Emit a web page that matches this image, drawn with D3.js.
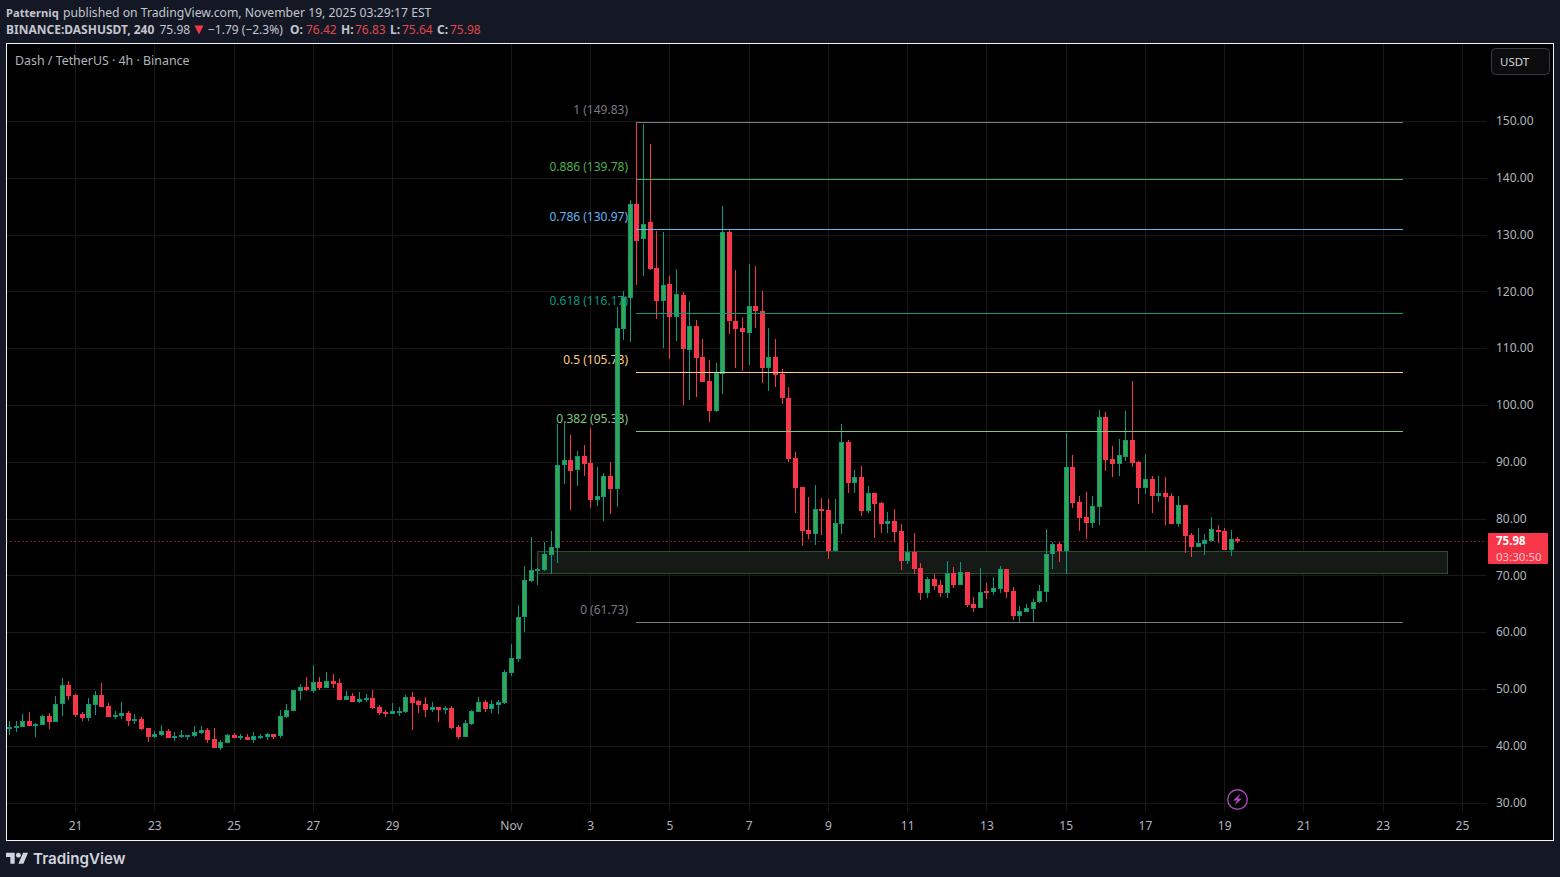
<!DOCTYPE html>
<html>
<head>
<meta charset="utf-8">
<title>DASHUSDT</title>
<script src="https://cdn.jsdelivr.net/npm/d3@7/dist/d3.min.js"></script>
<style>
html, body { margin: 0; padding: 0; background: #141824; overflow: hidden; }
svg { display: block; }
text { font-family: "Noto Sans", sans-serif; }
</style>
</head>
<body>
<script>
var opens = [
43.18,43.18,43.29,44.35,43.64,43.64,45.23,44.17,47.34,50.68,
48.92,45.58,44.88,47.16,48.92,46.99,45.05,45.23,45.76,44.35,
44.7,43.12,41.53,41.88,42.59,41.36,41.71,41.77,41.71,42.24,
42.76,41.18,39.6,40.48,41.88,41.53,41.53,41.0,41.53,41.53,
42.06,41.71,45.05,46.11,49.63,50.33,49.63,51.21,50.15,51.39,
51.03,48.04,48.75,47.69,48.22,48.4,46.81,45.93,45.58,45.93,
45.93,48.57,47.87,47.34,46.28,46.81,46.46,46.64,43.29,41.53,
43.82,45.93,47.69,46.46,47.16,47.52,52.79,55.25,62.65,68.98,
70.82,70.91,73.55,74.84,89.27,90.22,88.38,90.97,89.74,83.23,
83.81,87.45,85.17,113.37,118.9,135.44,129.28,132.15,124.05,118.25,
121.24,115.43,119.3,109.62,113.85,108.39,104.17,98.89,105.4,130.38,
114.73,113.5,112.62,117.37,116.49,106.46,108.39,105.4,101.18,90.62,
85.52,77.95,77.25,81.65,81.47,74.26,79.0,93.44,86.22,87.28,
81.29,84.46,82.7,79.0,79.53,77.77,72.5,74.08,71.26,66.87,
69.33,68.27,66.87,70.38,68.27,70.56,64.93,64.23,67.22,67.04,
67.57,71.09,67.22,62.82,63.52,64.05,65.28,67.04,73.73,75.49,
74.26,89.04,82.88,80.24,79.18,82.0,97.83,90.45,89.57,90.8,
93.79,89.92,85.34,86.92,83.93,84.46,83.93,79.0,82.35,77.07,
74.96,75.49,76.02,77.95,77.77,74.43,76.42]

var highs = [
44.35,44.35,45.58,45.93,44.0,45.4,45.76,48.75,51.91,51.39,
49.1,45.93,48.4,49.63,51.03,47.52,46.11,47.69,46.11,45.58,
45.05,43.12,42.59,43.64,42.94,42.41,42.76,41.88,43.47,43.47,
43.12,43.12,41.0,42.06,42.24,42.06,42.06,42.41,42.06,42.24,
42.06,46.28,47.34,49.8,50.86,52.09,54.2,52.09,52.97,52.62,
51.74,49.63,49.27,49.45,49.1,49.8,47.16,46.28,47.52,46.81,
48.92,49.51,48.04,48.57,47.69,46.81,46.99,46.99,43.64,44.52,
46.28,48.57,48.04,48.04,48.04,53.32,57.9,64.76,71.62,76.72,
71.26,75.89,77.77,96.6,97.0,94.67,91.85,92.91,95.9,89.04,
87.98,89.92,117.24,120.0,136.02,149.83,149.39,145.87,130.56,130.38,
122.64,123.88,119.83,118.25,114.9,111.56,107.86,107.34,134.96,130.74,
123.7,115.43,124.76,124.4,120.0,113.5,111.56,106.28,103.11,91.67,
85.52,83.76,85.87,83.58,83.41,83.41,96.6,93.79,88.51,89.21,
85.69,84.46,82.88,81.12,81.65,79.0,75.66,77.42,72.15,69.68,
70.21,69.15,72.5,71.44,72.32,70.56,66.16,71.26,68.62,69.68,
71.62,71.09,67.92,64.58,64.93,65.81,68.27,78.13,75.84,75.84,
95.02,91.15,83.93,84.64,83.93,99.07,98.72,92.73,93.96,98.89,
104.17,90.09,91.32,87.45,87.45,87.28,84.46,83.93,82.35,77.42,
78.3,77.25,80.24,78.83,78.3,77.95,76.83]

var lows = [
41.88,42.41,43.23,43.47,41.53,43.64,42.94,44.17,45.23,48.04,
45.05,44.35,44.35,45.4,46.81,45.05,44.7,44.7,43.47,43.82,
42.76,40.65,41.36,41.71,41.36,40.83,41.36,41.0,41.53,42.06,
40.48,39.6,39.25,40.48,41.36,41.0,41.0,40.48,41.18,41.0,
41.18,41.36,44.88,46.11,48.04,49.63,49.27,49.8,50.15,50.15,
48.04,48.04,47.69,47.52,47.69,46.46,45.4,45.05,45.58,45.23,
45.76,42.76,45.76,45.05,45.93,44.17,45.58,42.94,41.18,41.53,
43.64,45.93,45.93,45.76,45.58,47.34,52.27,54.73,60.0,68.8,
68.27,70.74,70.21,72.2,86.05,81.47,85.69,87.45,81.82,82.17,
79.54,80.77,82.05,111.38,111.08,121.06,122.7,123.7,115.08,109.98,
108.04,111.21,99.95,100.83,101.35,104.0,96.95,98.72,101.88,112.44,
106.46,105.93,106.98,113.5,103.82,102.41,103.11,100.12,89.92,80.94,
75.14,76.37,75.31,77.07,72.85,74.26,77.25,84.46,84.46,80.41,
80.94,76.54,77.42,77.42,75.84,70.91,71.97,70.21,65.63,65.99,
67.39,66.16,65.99,67.74,68.27,64.41,63.52,64.23,65.81,66.51,
66.87,65.99,62.12,61.76,63.52,61.73,65.11,65.28,71.09,72.32,
70.21,81.82,77.77,76.37,78.3,78.83,88.33,87.28,87.45,90.09,
89.04,82.53,84.28,80.94,82.88,78.83,79.0,78.48,73.91,73.2,
74.96,73.55,76.02,75.66,74.43,73.37,75.64]

var closes = [
43.29,43.47,44.35,43.47,43.82,45.23,44.17,47.34,50.68,48.75,
45.4,44.88,47.34,48.92,46.81,45.05,45.4,45.76,44.35,44.7,
42.94,41.53,42.06,42.59,41.36,41.71,41.88,41.88,42.41,42.76,
41.0,39.6,40.65,41.88,41.36,41.71,41.0,41.71,41.71,42.06,
41.53,45.23,46.28,49.8,50.33,49.8,51.21,50.15,51.39,50.86,
48.04,48.75,47.69,48.22,48.4,46.64,45.76,45.58,46.11,46.11,
48.57,47.52,47.16,46.28,46.81,46.28,46.64,43.12,41.53,44.0,
46.11,47.69,46.46,47.34,47.69,52.97,55.43,62.65,69.15,70.91,
71.09,73.67,74.91,89.39,90.22,88.33,90.92,89.57,83.23,83.93,
87.45,85.17,113.5,119.0,135.44,128.98,131.92,123.88,118.25,121.06,
115.43,119.48,109.8,113.85,108.22,104.0,98.89,105.58,130.38,114.73,
113.32,112.79,117.37,116.49,106.46,108.39,105.23,101.18,90.45,85.34,
77.77,77.25,81.65,81.47,74.26,79.18,93.44,86.22,87.28,81.29,
84.46,82.53,79.0,79.53,77.6,72.5,74.08,71.09,66.87,69.33,
68.1,66.87,70.38,68.27,70.56,64.76,64.23,67.04,67.04,67.74,
71.09,67.04,62.82,63.7,64.23,65.28,67.22,73.73,75.49,74.26,
89.04,82.7,80.06,79.18,82.17,97.83,90.27,89.57,91.15,93.79,
89.74,85.34,86.92,83.93,84.46,83.76,79.0,82.35,76.9,74.96,
75.66,76.19,78.13,77.6,74.43,76.37,75.98]

// date ticks, position counted in 4h bars
var dateTickBars = [10,22,34,46,58,76,88,100,112,124,136,148,160,172,184,196,208,220]
var dateTickLabels = ["21","23","25","27","29","Nov","3","5","7","9","11","13","15","17","19","21","23","25"]
var priceTicks = [30,40,50,60,70,80,90,100,110,120,130,140,150]

var fibRatios = ["1","0.886","0.786","0.618","0.5","0.382","0"]
var fibPrices = [149.83,139.78,130.97,116.17,105.78,95.38,61.73]
var fibColors = ["#787b86","#4caf50","#64b5f6","#089981","#ffcc80","#81c784","#787b86"]
var fibStartBar = 95
var fibEndBar = 211

var zoneTop = 74.3
var zoneBottom = 70.5
var zoneStartBar = 80
var zoneEndBar = 217.8

var lastPrice = 75.98
var countdown = "03:30:50"

var upColor = "#089981"
var upFill = "#38a64f"
var downColor = "#f7364a"
var textColor = "#b2b5be"

var screen = {width: 1560, height: 877}
var box = {left: 6.5, top: 43.5, right: 1553.5, bottom: 840.5}
var plotRight = 1487
var plotBottom = 812

var svg = d3.select("body")
    .append("svg")
    .attr("width", screen.width)
    .attr("height", screen.height)

// chart frame
svg.append("rect")
    .attr("x", box.left)
    .attr("y", box.top)
    .attr("width", box.right - box.left)
    .attr("height", box.bottom - box.top)
    .attr("fill", "#000")
    .attr("stroke", "#f0f3fa")
    .attr("stroke-width", 1)

var xscale = d3.scaleLinear().domain([0, 186]).range([9.0, 1237.4])
var yscale = d3.scaleLinear().domain([30, 150]).range([802.5, 120.9])

var candles = opens.map(function(o, i)
{
    return {i: i, o: o, h: highs[i], l: lows[i], c: closes[i]}
})

var crisp = function(v) { return Math.round(v) + 0.5 }

// grid + axes
var xaxis = d3.axisBottom(xscale)
    .tickValues(dateTickBars)
    .tickFormat(function(d, i) { return dateTickLabels[i] })
    .tickSize(-(plotBottom - box.top))
    .tickPadding(9)

var yaxis = d3.axisRight(yscale)
    .tickValues(priceTicks)
    .tickFormat(d3.format(".2f"))
    .tickSize(-(plotRight - box.left))
    .tickPadding(9)

var gx = svg.append("g").attr("transform", "translate(0," + plotBottom + ")").call(xaxis)
var gy = svg.append("g").attr("transform", "translate(" + plotRight + ",0)").call(yaxis)

gx.select(".domain").remove()
gy.select(".domain").remove()
svg.selectAll(".tick line").attr("stroke", "#181818").attr("shape-rendering", "crispEdges")
svg.selectAll(".tick text")
    .attr("fill", textColor)
    .style("font-size", "12px")
    .style("font-family", '"Noto Sans", sans-serif')

// support zone
svg.append("rect")
    .attr("x", crisp(xscale(zoneStartBar)))
    .attr("y", crisp(yscale(zoneTop)))
    .attr("width", Math.round(xscale(zoneEndBar) - xscale(zoneStartBar)))
    .attr("height", Math.round(yscale(zoneBottom) - yscale(zoneTop)))
    .attr("fill", "#161a16")
    .attr("stroke", "#2a4f2d")
    .attr("shape-rendering", "crispEdges")

// fib labels sit under the candles
svg.selectAll(".fiblabel")
    .data(fibRatios)
    .enter()
    .append("text")
    .attr("class", "fiblabel")
    .attr("x", 628)
    .attr("y", function(d, i) { return yscale(fibPrices[i]) - 8 })
    .attr("text-anchor", "end")
    .attr("font-size", 12)
    .attr("fill", function(d, i) { return fibColors[i] })
    .text(function(d, i) { return d + " (" + fibPrices[i].toFixed(2) + ")" })

// last price line
svg.append("line")
    .attr("x1", box.left)
    .attr("x2", plotRight)
    .attr("y1", crisp(yscale(lastPrice)))
    .attr("y2", crisp(yscale(lastPrice)))
    .attr("stroke", downColor)
    .attr("stroke-width", 1)
    .attr("stroke-dasharray", "1 3")

// candles
var candle = svg.append("g")
    .attr("shape-rendering", "crispEdges")
    .selectAll("g")
    .data(candles)
    .enter()
    .append("g")

candle.append("line")
    .attr("x1", function(d) { return crisp(xscale(d.i)) })
    .attr("x2", function(d) { return crisp(xscale(d.i)) })
    .attr("y1", function(d) { return yscale(d.h) })
    .attr("y2", function(d) { return yscale(d.l) })
    .attr("stroke", function(d) { return d.c >= d.o ? upColor : downColor })

candle.append("rect")
    .attr("x", function(d) { return crisp(xscale(d.i)) - 2 })
    .attr("width", 4)
    .attr("y", function(d) { return Math.round(yscale(Math.max(d.o, d.c))) + 0.5 })
    .attr("height", function(d) { return Math.max(1, Math.round(Math.abs(yscale(d.o) - yscale(d.c))) - 1) })
    .attr("fill", function(d) { return d.c >= d.o ? upFill : downColor })
    .attr("stroke", function(d) { return d.c >= d.o ? upColor : downColor })

// fib lines on top
svg.selectAll(".fibline")
    .data(fibPrices)
    .enter()
    .append("line")
    .attr("class", "fibline")
    .attr("x1", xscale(fibStartBar))
    .attr("x2", xscale(fibEndBar))
    .attr("y1", function(d) { return crisp(yscale(d)) })
    .attr("y2", function(d) { return crisp(yscale(d)) })
    .attr("stroke", function(d, i) { return fibColors[i] })
    .attr("shape-rendering", "crispEdges")

// last price tag
svg.append("rect")
    .attr("x", 1488)
    .attr("y", 533)
    .attr("width", 60)
    .attr("height", 31)
    .attr("rx", 1)
    .attr("fill", "#f7364a")

svg.append("text")
    .attr("x", 1496)
    .attr("y", 545)
    .attr("font-size", 11.5)
    .attr("font-weight", 700)
    .attr("fill", "#fff")
    .text(lastPrice.toFixed(2))

svg.append("text")
    .attr("x", 1496)
    .attr("y", 561)
    .attr("font-size", 11.5)
    .attr("fill", "#fbc4ca")
    .text(countdown)

// currency button
svg.append("rect")
    .attr("x", 1491.5)
    .attr("y", 48.5)
    .attr("width", 58)
    .attr("height", 26)
    .attr("rx", 4)
    .attr("fill", "#0c0c0c")
    .attr("stroke", "#363a45")

svg.append("text")
    .attr("x", 1500)
    .attr("y", 66)
    .attr("font-size", 11.5)
    .attr("fill", "#d1d4dc")
    .text("USDT")

// legend
svg.append("text")
    .attr("x", 15)
    .attr("y", 65)
    .attr("font-size", 12.4)
    .attr("fill", textColor)
    .text("Dash / TetherUS · 4h · Binance")

// header lines
var addtext = function(x, y, str, color, weight, size)
{
    svg.append("text")
        .attr("x", x)
        .attr("y", y)
        .attr("font-size", size || 12)
        .attr("font-weight", weight || 400)
        .attr("fill", color)
        .text(str)
}

var headColor = "#c2c5ce"
var red = "#e0474c"

addtext(6, 17, "Patterniq", headColor, 700, 11.2)
addtext(63, 17, "published on TradingView.com, November 19, 2025 03:29:17 EST", headColor, 400, 12.2)
addtext(6, 34, "BINANCE:DASHUSDT, 240", headColor, 700)
addtext(159.5, 34, "75.98", headColor)
addtext(208, 34, "−1.79 (−2.3%)", headColor)
addtext(290, 34, "O:", headColor, 700)
addtext(306, 34, "76.42", red)
addtext(341, 34, "H:", headColor, 700)
addtext(355, 34, "76.83", red)
addtext(390, 34, "L:", headColor, 700)
addtext(402, 34, "75.64", red)
addtext(437, 34, "C:", headColor, 700)
addtext(450, 34, "75.98", red)

svg.append("path")
    .attr("d", "M194.5 25.5 L203.5 25.5 L199 34.5 Z")
    .attr("fill", "#f23645")

// lightning badge
svg.append("circle")
    .attr("cx", 1237.5)
    .attr("cy", 799.5)
    .attr("r", 9.8)
    .attr("fill", "#000")
    .attr("stroke", "#ab47bc")
    .attr("stroke-width", 1.4)

svg.append("path")
    .attr("d", "M1240.5 793.5 L1233 800.5 L1237 800.5 L1234.5 805.5 L1242 798.5 L1238 798.5 Z")
    .attr("fill", "#ab47bc")

// TradingView logo
var logo = svg.append("g")
    .attr("transform", "translate(6,850.2) scale(0.62)")
    .attr("fill", "#d1d4dc")

logo.append("path").attr("d", "M14 22H7V11H0V4h14v18zM28 22h-8l7.5-18h8L28 22z")
logo.append("circle").attr("cx", 20).attr("cy", 8).attr("r", 4)

svg.append("text")
    .attr("x", 33)
    .attr("y", 864)
    .attr("font-size", 15.2)
    .attr("font-weight", 600)
    .attr("fill", "#d1d4dc")
    .style("font-family", 'Inter, sans-serif')
    .text("TradingView")
</script>
</body>
</html>
